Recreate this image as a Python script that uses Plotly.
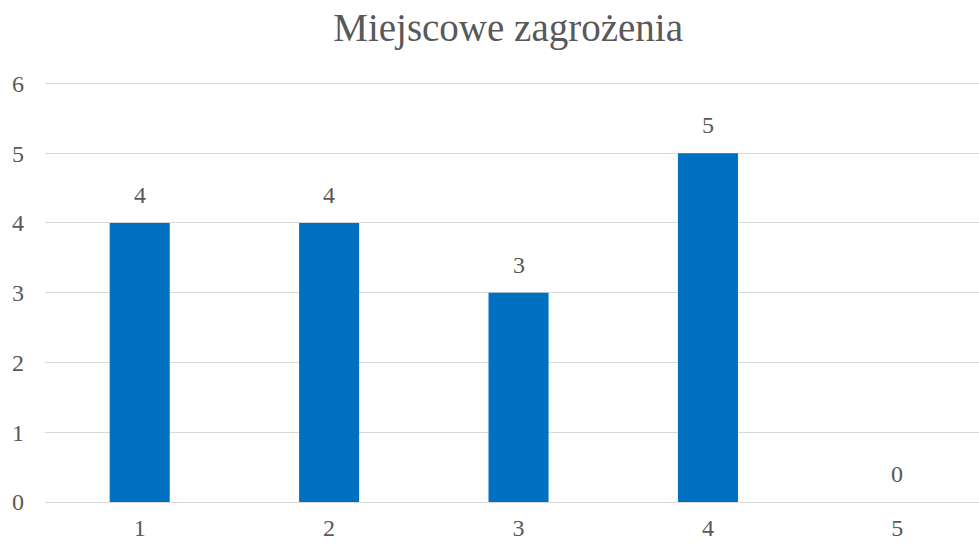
import plotly.graph_objects as go

# Chart data
categories = ["1", "2", "3", "4", "5"]
values = [4, 4, 3, 5, 0]
title_text = "Miejscowe zagrożenia"

BAR_COLOR = "#0070C0"
TEXT_COLOR = "#595959"
GRID_COLOR = "#D9D9D9"
FONT = "Liberation Serif"

fig = go.Figure(
    go.Bar(
        x=categories,
        y=values,
        marker=dict(color=BAR_COLOR, line=dict(width=0)),
        width=0.317,
        cliponaxis=False,
    )
)

# value labels sitting above each bar (x given as category index)
for idx, val in enumerate(values):
    fig.add_annotation(
        x=idx,
        y=val,
        xref="x",
        yref="y",
        text=str(val),
        showarrow=False,
        yanchor="bottom",
        yshift=13,
        font=dict(family=FONT, size=24, color=TEXT_COLOR),
    )

fig.update_layout(
    width=979,
    height=543,
    margin=dict(l=45, r=0, t=82, b=41),
    paper_bgcolor="white",
    plot_bgcolor="white",
    showlegend=False,
    title=dict(
        text=title_text,
        x=0.519,
        xanchor="center",
        y=0.95,
        yanchor="middle",
        font=dict(family=FONT, size=39, color=TEXT_COLOR),
    ),
    xaxis=dict(
        type="category",
        range=[-0.5, 4.431],
        showgrid=False,
        showline=False,
        ticks="",
        automargin=False,
        ticklabelstandoff=9,
        tickfont=dict(family=FONT, size=24, color=TEXT_COLOR),
    ),
    yaxis=dict(
        range=[0, 6.02],
        dtick=1,
        showgrid=True,
        gridcolor=GRID_COLOR,
        gridwidth=1.3,
        zeroline=True,
        zerolinecolor=GRID_COLOR,
        zerolinewidth=1.3,
        ticks="",
        automargin=False,
        ticklabelstandoff=20,
        tickfont=dict(family=FONT, size=24, color=TEXT_COLOR),
    ),
)

fig.write_html("out.html")
